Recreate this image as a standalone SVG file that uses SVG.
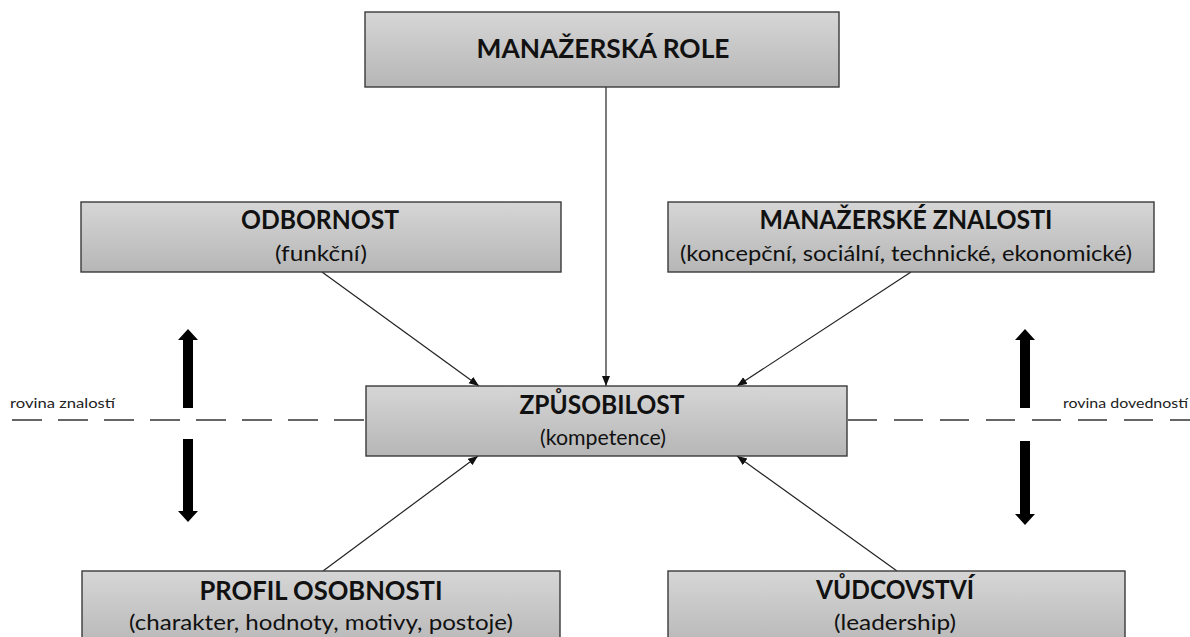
<svg xmlns="http://www.w3.org/2000/svg" width="1190" height="637" viewBox="0 0 1190 637">
  <defs>
    <linearGradient id="boxg" x1="0" y1="0" x2="0" y2="1">
      <stop offset="0" stop-color="#d6d6d6"/>
      <stop offset="1" stop-color="#b6b6b6"/>
    </linearGradient>
    <marker id="ah" markerUnits="userSpaceOnUse" markerWidth="12" markerHeight="10" refX="10" refY="4" orient="auto">
      <path d="M0,0 L10,4 L0,8 z" fill="#111"/>
    </marker>
    <style>
      .box { fill: url(#boxg); stroke: #3a3a3a; stroke-width: 1.4; }
      .t { font-family: Lato, "Open Sans", "Noto Sans", sans-serif; font-weight: bold; font-size: 27px; fill: #111; text-anchor: middle; }
      .s { font-family: Lato, "Open Sans", "Noto Sans", sans-serif; font-size: 22px; fill: #111; text-anchor: middle; }
      .lbl { font-family: Lato, "Open Sans", "Noto Sans", sans-serif; font-size: 13px; fill: #222; }
      .con { stroke: #222; stroke-width: 1.2; fill: none; marker-end: url(#ah); }
      .dash { stroke: #333; stroke-width: 1.5; fill: none; }
      .thick { fill: #000; }
    </style>
  </defs>
  <rect width="1190" height="637" fill="#fff"/>

  <g id="planes">
    <line class="dash" x1="12" y1="420" x2="366" y2="420" stroke-dasharray="30 16"/>
    <line class="dash" x1="848" y1="420" x2="1190" y2="420" stroke-dasharray="29 17"/>
    <text class="lbl" x="10" y="408" textLength="105" lengthAdjust="spacingAndGlyphs">rovina znalostí</text>
    <text class="lbl" x="1063" y="408" textLength="125" lengthAdjust="spacingAndGlyphs">rovina dovedností</text>
    <polygon class="thick" points="188,329 198,340 193,340 193,408 183,408 183,340 178,340"/>
    <polygon class="thick" points="183,439 193,439 193,511 198,511 188,522 178,511 183,511"/>
    <polygon class="thick" points="1025,329 1035,340 1030,340 1030,408 1020,408 1020,340 1015,340"/>
    <polygon class="thick" points="1020,441 1030,441 1030,514 1035,514 1025,525 1015,514 1020,514"/>
  </g>

  <g id="connectors">
    <line class="con" x1="606" y1="87" x2="606" y2="386"/>
    <line class="con" x1="322" y1="272" x2="479" y2="386"/>
    <line class="con" x1="911" y1="272" x2="737" y2="386"/>
    <line class="con" x1="323" y1="571" x2="478" y2="456"/>
    <line class="con" x1="897" y1="571" x2="737" y2="456"/>
  </g>

  <g id="node-manazerska-role">
    <rect class="box" x="365" y="12" width="474" height="75"/>
    <text class="t" x="603" y="58" textLength="253" lengthAdjust="spacingAndGlyphs">MANAŽERSKÁ ROLE</text>
  </g>

  <g id="node-odbornost">
    <rect class="box" x="81" y="202" width="480" height="70"/>
    <text class="t" x="320" y="229" textLength="158" lengthAdjust="spacingAndGlyphs">ODBORNOST</text>
    <text class="s" x="321" y="261" textLength="92" lengthAdjust="spacingAndGlyphs">(funkční)</text>
  </g>

  <g id="node-manazerske-znalosti">
    <rect class="box" x="668" y="202" width="486" height="70"/>
    <text class="t" x="906" y="229" textLength="293" lengthAdjust="spacingAndGlyphs">MANAŽERSKÉ ZNALOSTI</text>
    <text class="s" x="906" y="261" textLength="452" lengthAdjust="spacingAndGlyphs">(koncepční, sociální, technické, ekonomické)</text>
  </g>

  <g id="node-zpusobilost">
    <rect class="box" x="366" y="386" width="481" height="70"/>
    <text class="t" x="602" y="414" textLength="165" lengthAdjust="spacingAndGlyphs">ZPŮSOBILOST</text>
    <text class="s" x="603" y="445" textLength="126" lengthAdjust="spacingAndGlyphs">(kompetence)</text>
  </g>

  <g id="node-profil-osobnosti">
    <rect class="box" x="82" y="571" width="478" height="80"/>
    <text class="t" x="321" y="600" textLength="243" lengthAdjust="spacingAndGlyphs">PROFIL OSOBNOSTI</text>
    <text class="s" x="321" y="630" textLength="384" lengthAdjust="spacingAndGlyphs">(charakter, hodnoty, motivy, postoje)</text>
  </g>

  <g id="node-vudcovstvi">
    <rect class="box" x="668" y="571" width="457" height="80"/>
    <text class="t" x="895" y="599" textLength="158" lengthAdjust="spacingAndGlyphs">VŮDCOVSTVÍ</text>
    <text class="s" x="895" y="630" textLength="122" lengthAdjust="spacingAndGlyphs">(leadership)</text>
  </g>
</svg>
